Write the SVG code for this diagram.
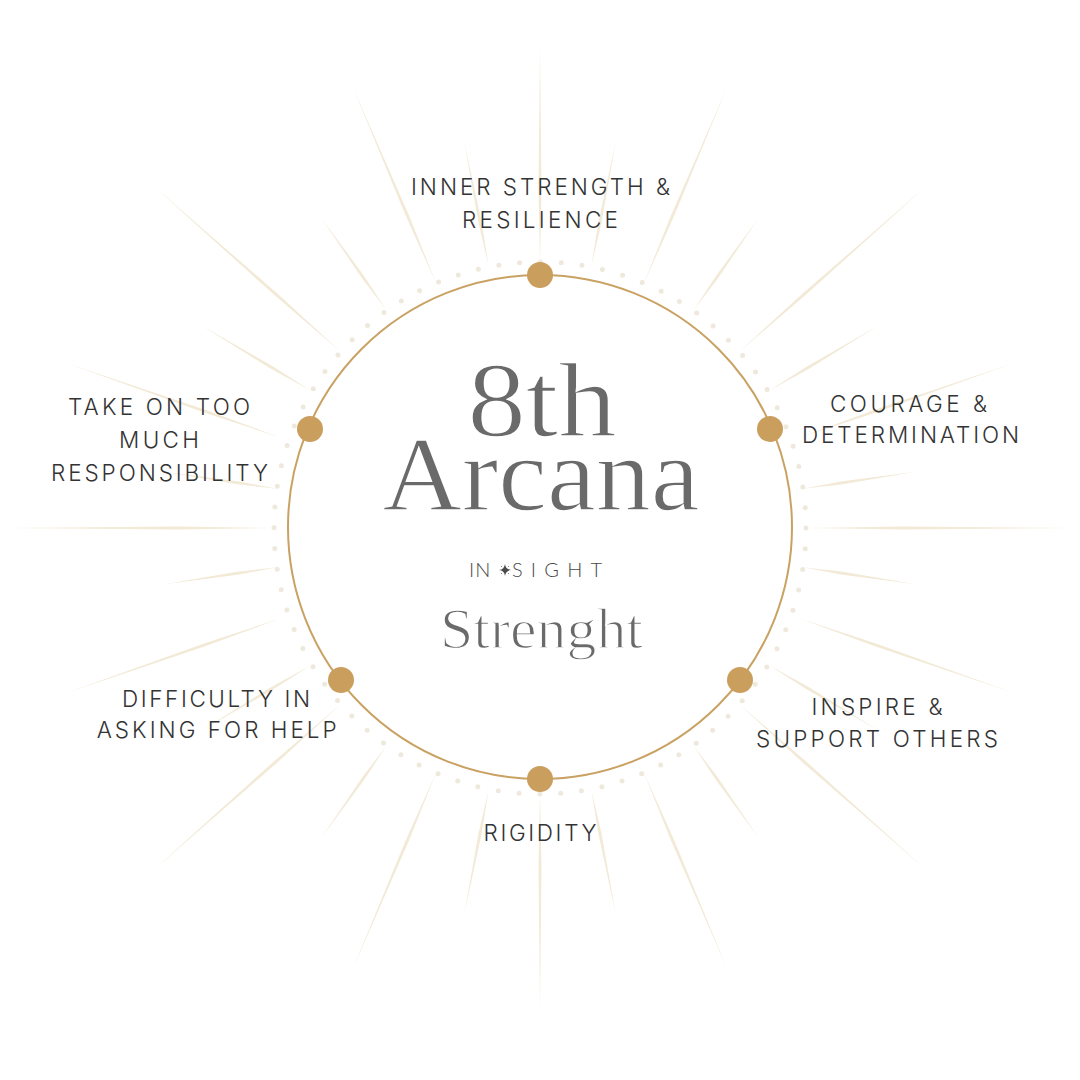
<svg xmlns="http://www.w3.org/2000/svg" width="1080" height="1080" viewBox="0 0 1080 1080">
<style>
.lbl{font-family:Inter,"Noto Sans","Liberation Sans",sans-serif;font-size:22.5px;font-weight:300;fill:#333;text-anchor:middle}
.ser{font-family:"Liberation Serif","DejaVu Serif",serif;fill:#6a6a6a;text-anchor:middle;stroke:#fff;stroke-width:1.4px}
.ins{font-family:Lato,"Open Sans","Liberation Sans",sans-serif;font-size:20px;font-weight:300;fill:#4a4a4a}
.ray{fill:#F2EAD6}
.dot{fill:#CA9E5D}
</style>
<defs>
<path id="ray" d="M0,0 L0.35,-1.5 L1,0 L0.35,1.5 Z"/>
</defs>
<rect width="1080" height="1080" fill="#fff"/>
<g id="rays" class="ray">
<use href="#ray" transform="translate(540,528) rotate(-90) translate(265,0) scale(215,1)"/>
<use href="#ray" transform="translate(540,528) rotate(90) translate(265,0) scale(215,1)"/>
<use href="#ray" transform="translate(540,528) rotate(0) translate(269,0) scale(264,1)"/>
<use href="#ray" transform="translate(540,528) rotate(180) translate(269,0) scale(264,1)"/>
<use href="#ray" transform="translate(540,528) rotate(-78.9) translate(267,0) scale(127,1)"/>
<use href="#ray" transform="translate(540,528) rotate(-67) translate(265,0) scale(215,1)"/>
<use href="#ray" transform="translate(540,528) rotate(-54.8) translate(267,0) scale(113,1)"/>
<use href="#ray" transform="translate(540,528) rotate(-41.5) translate(265,0) scale(251,1)"/>
<use href="#ray" transform="translate(540,528) rotate(-30.9) translate(268,0) scale(126,1)"/>
<use href="#ray" transform="translate(540,528) rotate(-19.2) translate(275,0) scale(229,1)"/>
<use href="#ray" transform="translate(540,528) rotate(-8.5) translate(266,0) scale(114,1)"/>
<use href="#ray" transform="translate(540,528) rotate(-101.1) translate(267,0) scale(127,1)"/>
<use href="#ray" transform="translate(540,528) rotate(-113) translate(265,0) scale(215,1)"/>
<use href="#ray" transform="translate(540,528) rotate(-125.2) translate(267,0) scale(113,1)"/>
<use href="#ray" transform="translate(540,528) rotate(-138.5) translate(265,0) scale(251,1)"/>
<use href="#ray" transform="translate(540,528) rotate(-149.1) translate(268,0) scale(126,1)"/>
<use href="#ray" transform="translate(540,528) rotate(-160.8) translate(275,0) scale(229,1)"/>
<use href="#ray" transform="translate(540,528) rotate(-171.5) translate(266,0) scale(114,1)"/>
<use href="#ray" transform="translate(540,528) rotate(78.9) translate(267,0) scale(127,1)"/>
<use href="#ray" transform="translate(540,528) rotate(67) translate(265,0) scale(215,1)"/>
<use href="#ray" transform="translate(540,528) rotate(54.8) translate(267,0) scale(113,1)"/>
<use href="#ray" transform="translate(540,528) rotate(41.5) translate(265,0) scale(251,1)"/>
<use href="#ray" transform="translate(540,528) rotate(30.9) translate(268,0) scale(126,1)"/>
<use href="#ray" transform="translate(540,528) rotate(19.2) translate(275,0) scale(229,1)"/>
<use href="#ray" transform="translate(540,528) rotate(8.5) translate(266,0) scale(114,1)"/>
<use href="#ray" transform="translate(540,528) rotate(101.1) translate(267,0) scale(127,1)"/>
<use href="#ray" transform="translate(540,528) rotate(113) translate(265,0) scale(215,1)"/>
<use href="#ray" transform="translate(540,528) rotate(125.2) translate(267,0) scale(113,1)"/>
<use href="#ray" transform="translate(540,528) rotate(138.5) translate(265,0) scale(251,1)"/>
<use href="#ray" transform="translate(540,528) rotate(149.1) translate(268,0) scale(126,1)"/>
<use href="#ray" transform="translate(540,528) rotate(160.8) translate(275,0) scale(229,1)"/>
<use href="#ray" transform="translate(540,528) rotate(171.5) translate(266,0) scale(114,1)"/>
</g>
<g id="dotted-ring">
<circle cx="540" cy="528" r="266" fill="none" stroke="#EEE9DC" stroke-width="5" stroke-linecap="round" stroke-dasharray="0 20.89"/>
</g>
<g id="connectors">
<circle cx="540" cy="527" r="252" fill="none" stroke="#C9A263" stroke-width="2"/>
</g>
<g id="center-title">
<text class="ser" x="542" y="436" font-size="106" textLength="149" lengthAdjust="spacingAndGlyphs">8th</text>
<text class="ser" x="541" y="510" font-size="106" textLength="317" lengthAdjust="spacingAndGlyphs">Arcana</text>
<text class="ins" x="469" y="577" letter-spacing="1">IN</text>
<path d="M505,564 Q505.6,569.4 511,570 Q505.6,570.6 505,576 Q504.4,570.6 499,570 Q504.4,569.4 505,564 Z" fill="#4a4a4a"/>
<circle cx="501.5" cy="566.5" r="0.6" fill="#777"/>
<circle cx="508.5" cy="566.5" r="0.6" fill="#777"/>
<circle cx="501.5" cy="573.5" r="0.6" fill="#777"/>
<circle cx="508.5" cy="573.5" r="0.6" fill="#777"/>
<text class="ins" x="512" y="577" textLength="90" lengthAdjust="spacing">SIGHT</text>
<text class="ser" x="541.5" y="648" font-size="57" stroke-width="0.9" textLength="203" lengthAdjust="spacingAndGlyphs">Strenght</text>
</g>
<g id="node-inner-strength">
<circle class="dot" cx="540" cy="275" r="13"/>
<text class="lbl" x="540.5" y="195" textLength="259" lengthAdjust="spacing">INNER STRENGTH &amp;</text>
<text class="lbl" x="540" y="228" textLength="156" lengthAdjust="spacing">RESILIENCE</text>
</g>
<g id="node-courage">
<circle class="dot" cx="770" cy="429" r="13"/>
<text class="lbl" x="908.5" y="412" textLength="157" lengthAdjust="spacing">COURAGE &amp;</text>
<text class="lbl" x="910.5" y="443" textLength="217" lengthAdjust="spacing">DETERMINATION</text>
</g>
<g id="node-inspire">
<circle class="dot" cx="740" cy="680" r="13"/>
<text class="lbl" x="877" y="715" textLength="131" lengthAdjust="spacing">INSPIRE &amp;</text>
<text class="lbl" x="877" y="747" textLength="242" lengthAdjust="spacing">SUPPORT OTHERS</text>
</g>
<g id="node-rigidity">
<circle class="dot" cx="540" cy="779" r="13"/>
<text class="lbl" x="540" y="841" textLength="113" lengthAdjust="spacing">RIGIDITY</text>
</g>
<g id="node-difficulty">
<circle class="dot" cx="341" cy="680" r="13"/>
<text class="lbl" x="216" y="707" textLength="188" lengthAdjust="spacing">DIFFICULTY IN</text>
<text class="lbl" x="216.7" y="738" textLength="240" lengthAdjust="spacing">ASKING FOR HELP</text>
</g>
<g id="node-take-on">
<circle class="dot" cx="310" cy="429" r="13"/>
<text class="lbl" x="159" y="415" textLength="182" lengthAdjust="spacing">TAKE ON TOO</text>
<text class="lbl" x="159" y="448" textLength="80" lengthAdjust="spacing">MUCH</text>
<text class="lbl" x="159.5" y="481" textLength="217" lengthAdjust="spacing">RESPONSIBILITY</text>
</g>
</svg>
